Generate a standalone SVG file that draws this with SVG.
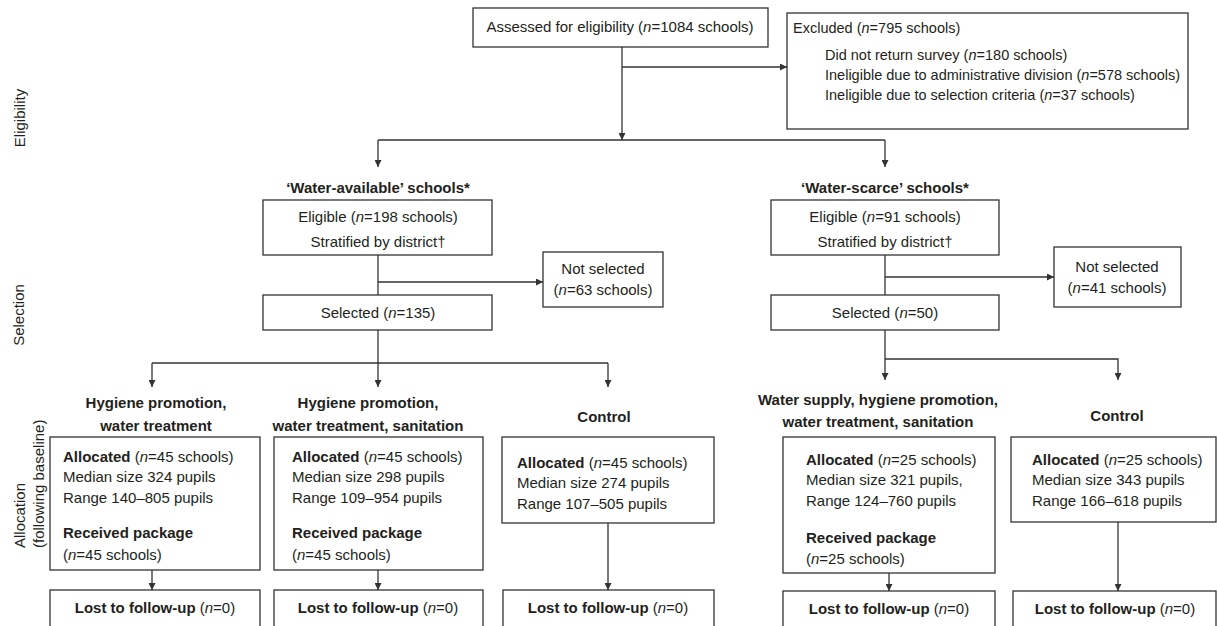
<svg xmlns="http://www.w3.org/2000/svg" width="1217" height="626" viewBox="0 0 1217 626">
<defs>
<marker id="ah" viewBox="0 0 10 10" refX="10" refY="5" markerWidth="7" markerHeight="7" markerUnits="userSpaceOnUse" orient="auto">
<path d="M0,0 L10,5 L0,10 z" fill="#333"/>
</marker>
<style>
text{font-family:"Liberation Sans",Arial,sans-serif;font-size:15px;fill:#231f20}
.b{font-weight:bold}
.c{text-anchor:middle}
.i{font-style:italic}
.s{font-size:14.5px}
rect{fill:#fff;stroke:#333;stroke-width:1.3}
.ln{fill:none;stroke:#333;stroke-width:1.3}
.ar{fill:none;stroke:#333;stroke-width:1.3;marker-end:url(#ah)}
</style>
</defs>
<rect x="0" y="0" width="1217" height="626" style="fill:#fff;stroke:none"/>

<g id="labels">
<text transform="translate(25,118) rotate(-90)" class="c">Eligibility</text>
<text transform="translate(24,315) rotate(-90)" class="c">Selection</text>
<text transform="translate(25,548) rotate(-90)">Allocation</text>
<text transform="translate(44,548) rotate(-90)">(following baseline)</text>
</g>

<g id="connectors">
<path class="ar" d="M622,47 V140"/>
<path class="ln" d="M378,140 H885"/>
<path class="ar" d="M622,67 H787"/>
<path class="ar" d="M378,140 V167"/>
<path class="ar" d="M885,140 V167"/>
<path class="ln" d="M378,255 V295"/>
<path class="ar" d="M378,282 H543"/>
<path class="ar" d="M378,330 V387"/>
<path class="ln" d="M152,363 H608"/>
<path class="ar" d="M152,363 V387"/>
<path class="ar" d="M608,363 V387"/>
<path class="ln" d="M885,255 V295"/>
<path class="ar" d="M885,277 H1054"/>
<path class="ar" d="M885,330 V380"/>
<path class="ar" d="M885,359 H1118 V380"/>
<path class="ar" d="M152,570 V590"/>
<path class="ar" d="M378,570 V590"/>
<path class="ar" d="M608,523 V590"/>
<path class="ar" d="M889,573 V591"/>
<path class="ar" d="M1118,522 V591"/>
</g>

<g id="assessed">
<rect x="473" y="8" width="295" height="39"/>
<text x="620" y="32" class="c">Assessed for eligibility (<tspan class="i">n</tspan>=1084 schools)</text>
</g>

<g id="excluded">
<rect x="787" y="13" width="401" height="116"/>
<text x="793" y="33" class="s">Excluded (<tspan class="i">n</tspan>=795 schools)</text>
<text x="825" y="60" class="s">Did not return survey (<tspan class="i">n</tspan>=180 schools)</text>
<text x="825" y="80" class="s">Ineligible due to administrative division (<tspan class="i">n</tspan>=578 schools)</text>
<text x="825" y="100" class="s">Ineligible due to selection criteria (<tspan class="i">n</tspan>=37 schools)</text>
</g>

<g id="wa-heading">
<text x="378" y="193" class="c b">‘Water-available’ schools*</text>
</g>
<g id="ws-heading">
<text x="885" y="193" class="c b">‘Water-scarce’ schools*</text>
</g>

<g id="wa-eligible">
<rect x="263" y="200" width="229" height="55"/>
<text x="378" y="222" class="c">Eligible (<tspan class="i">n</tspan>=198 schools)</text>
<text x="378" y="247" class="c">Stratified by district†</text>
</g>

<g id="wa-notselected">
<rect x="543" y="252" width="120" height="55"/>
<text x="603" y="274" class="c">Not selected</text>
<text x="603" y="295" class="c">(<tspan class="i">n</tspan>=63 schools)</text>
</g>

<g id="wa-selected">
<rect x="263" y="295" width="229" height="35"/>
<text x="378" y="318" class="c">Selected (<tspan class="i">n</tspan>=135)</text>
</g>

<g id="ws-eligible">
<rect x="771" y="200" width="228" height="55"/>
<text x="885" y="222" class="c">Eligible (<tspan class="i">n</tspan>=91 schools)</text>
<text x="885" y="247" class="c">Stratified by district†</text>
</g>

<g id="ws-notselected">
<rect x="1054" y="247" width="127" height="60"/>
<text x="1117" y="272" class="c">Not selected</text>
<text x="1117" y="293" class="c">(<tspan class="i">n</tspan>=41 schools)</text>
</g>

<g id="ws-selected">
<rect x="771" y="295" width="228" height="35"/>
<text x="885" y="318" class="c">Selected (<tspan class="i">n</tspan>=50)</text>
</g>

<g id="arm1">
<text x="156" y="408" class="c b">Hygiene promotion,</text>
<text x="156" y="431" class="c b">water treatment</text>
<rect x="50" y="437" width="210" height="133"/>
<text x="63" y="462"><tspan class="b">Allocated</tspan> (<tspan class="i">n</tspan>=45 schools)</text>
<text x="63" y="482">Median size 324 pupils</text>
<text x="63" y="503">Range 140–805 pupils</text>
<text x="63" y="538" class="b">Received package</text>
<text x="63" y="560">(<tspan class="i">n</tspan>=45 schools)</text>
</g>
<g id="lost1">
<rect x="50" y="590" width="210" height="50"/>
<text x="155" y="613" class="c"><tspan class="b">Lost to follow-up</tspan> (<tspan class="i">n</tspan>=0)</text>
</g>

<g id="arm2">
<text x="368" y="408" class="c b">Hygiene promotion,</text>
<text x="368" y="431" class="c b">water treatment, sanitation</text>
<rect x="274" y="437" width="209" height="133"/>
<text x="292" y="462"><tspan class="b">Allocated</tspan> (<tspan class="i">n</tspan>=45 schools)</text>
<text x="292" y="482">Median size 298 pupils</text>
<text x="292" y="503">Range 109–954 pupils</text>
<text x="292" y="538" class="b">Received package</text>
<text x="292" y="560">(<tspan class="i">n</tspan>=45 schools)</text>
</g>
<g id="lost2">
<rect x="274" y="590" width="209" height="50"/>
<text x="378" y="613" class="c"><tspan class="b">Lost to follow-up</tspan> (<tspan class="i">n</tspan>=0)</text>
</g>

<g id="arm3">
<text x="604" y="422" class="c b">Control</text>
<rect x="502" y="437" width="212" height="86"/>
<text x="517" y="468"><tspan class="b">Allocated</tspan> (<tspan class="i">n</tspan>=45 schools)</text>
<text x="517" y="488">Median size 274 pupils</text>
<text x="517" y="509">Range 107–505 pupils</text>
</g>
<g id="lost3">
<rect x="503" y="590" width="211" height="50"/>
<text x="608" y="613" class="c"><tspan class="b">Lost to follow-up</tspan> (<tspan class="i">n</tspan>=0)</text>
</g>

<g id="arm4">
<text x="878" y="405" class="c b">Water supply, hygiene promotion,</text>
<text x="878" y="427" class="c b">water treatment, sanitation</text>
<rect x="783" y="437" width="212" height="136"/>
<text x="806" y="465"><tspan class="b">Allocated</tspan> (<tspan class="i">n</tspan>=25 schools)</text>
<text x="806" y="485">Median size 321 pupils,</text>
<text x="806" y="506">Range 124–760 pupils</text>
<text x="806" y="543" class="b">Received package</text>
<text x="806" y="564">(<tspan class="i">n</tspan>=25 schools)</text>
</g>
<g id="lost4">
<rect x="783" y="591" width="212" height="50"/>
<text x="889" y="614" class="c"><tspan class="b">Lost to follow-up</tspan> (<tspan class="i">n</tspan>=0)</text>
</g>

<g id="arm5">
<text x="1117" y="421" class="c b">Control</text>
<rect x="1011" y="437" width="205" height="85"/>
<text x="1032" y="465"><tspan class="b">Allocated</tspan> (<tspan class="i">n</tspan>=25 schools)</text>
<text x="1032" y="485">Median size 343 pupils</text>
<text x="1032" y="506">Range 166–618 pupils</text>
</g>
<g id="lost5">
<rect x="1013" y="591" width="203" height="50"/>
<text x="1115" y="614" class="c"><tspan class="b">Lost to follow-up</tspan> (<tspan class="i">n</tspan>=0)</text>
</g>
</svg>
